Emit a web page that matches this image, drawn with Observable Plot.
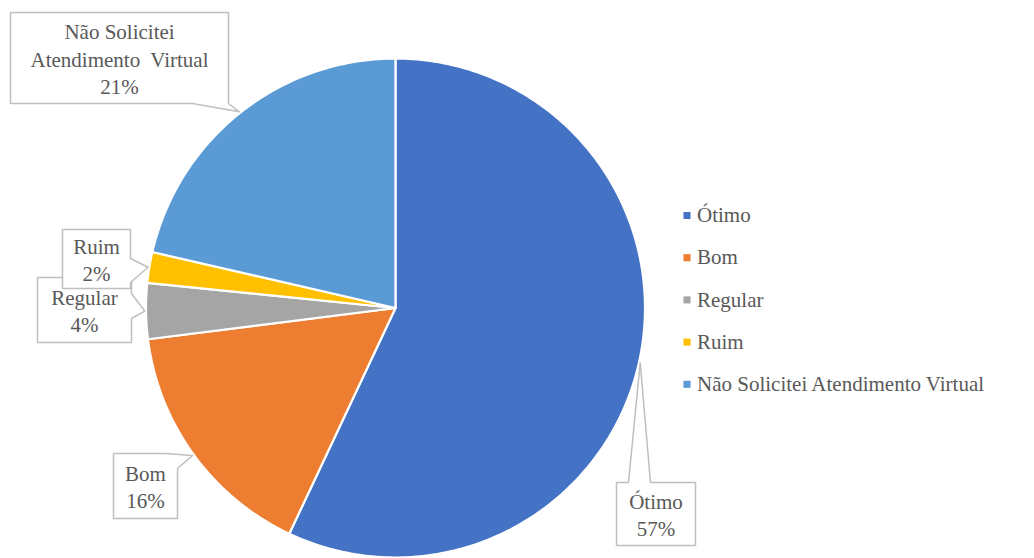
<!DOCTYPE html>
<html>
<head>
<meta charset="utf-8">
<script src="https://cdn.jsdelivr.net/npm/d3@7"></script>
<script src="https://cdn.jsdelivr.net/npm/@observablehq/plot@0.6"></script>
<style>
  html, body { margin: 0; padding: 0; background: #fff; }
  #chart svg { display: block; }
</style>
</head>
<body>
<div id="chart"></div>
<script>
// ---- data ----
const categories = ["Ótimo", "Bom", "Regular", "Ruim", "Não Solicitei Atendimento Virtual"];
const values = [57, 16, 3.6, 2, 21.4];
const percentLabels = ["57%", "16%", "4%", "2%", "21%"];
const labelNames = ["Ótimo", "Bom", "Regular", "Ruim", "Não Solicitei\nAtendimento  Virtual"];
const colors = ["#4472c4", "#ed7d31", "#a5a5a5", "#ffc000", "#5b9bd5"];

// ---- layout (pixels) ----
const W = 1034, H = 558;
const cx = 395, cy = 307.5, R = 249.5;
const callouts = [
  {box: [616, 482, 695, 545], edge: "top", base: [628, 650]},
  {box: [113, 453, 177, 518], edge: "corner-tr", base: [165, 468]},
  {box: [37, 277, 131, 342], edge: "right", base: [293, 318]},
  {box: [62, 229, 130, 288], edge: "right", base: [258, 282]},
  {box: [10, 12, 228, 103], edge: "bottom", base: [192, 228]}
];
const drawOrder = [0, 1, 2, 3, 4];
const legendX = 686.5, legendY0 = 215, legendStep = 42.2;

// ---- geometry from data ----
const pie = d3.pie().sort(null).value(d => d)(values);
const pt = (a, r = R) => [cx + r * Math.sin(a), cy - r * Math.cos(a)];

const slicePts = [];
pie.forEach((p, i) => {
  const n = Math.max(4, Math.ceil((p.endAngle - p.startAngle) / (Math.PI * 2) * 360));
  slicePts.push({cat: categories[i], x: cx, y: cy});
  for (let k = 0; k <= n; k++) {
    const a = p.startAngle + (p.endAngle - p.startAngle) * k / n;
    const [x, y] = pt(a);
    slicePts.push({cat: categories[i], x, y});
  }
});

const calloutPts = [];
const labelTexts = [];
drawOrder.forEach(i => {
  const c = callouts[i];
  const p = pie[i];
  const mid = (p.startAngle + p.endAngle) / 2;
  const tip = pt(mid, R * 1.005);
  const [x0, y0, x1, y1] = c.box;
  let poly;
  if (c.edge === "top") {
    poly = [[x0, y0], [c.base[0], y0], tip, [c.base[1], y0], [x1, y0], [x1, y1], [x0, y1]];
  } else if (c.edge === "bottom") {
    poly = [[x0, y0], [x1, y0], [x1, y1], [c.base[1], y1], tip, [c.base[0], y1], [x0, y1]];
  } else if (c.edge === "right") {
    poly = [[x0, y0], [x1, y0], [x1, c.base[0]], tip, [x1, c.base[1]], [x1, y1], [x0, y1]];
  } else {
    poly = [[x0, y0], [c.base[0], y0], tip, [x1, c.base[1]], [x1, y1], [x0, y1]];
  }
  poly.forEach(([x, y]) => calloutPts.push({id: i, x, y}));
  labelTexts.push({id: i, x: (x0 + x1) / 2, y: (y0 + y1) / 2,
    text: labelNames[i] + "\n" + percentLabels[i]});
});

const legendData = categories.map((c, i) => ({cat: c, x: legendX, y: legendY0 + i * legendStep}));

const font = "Liberation Serif";

const chart = Plot.plot({
  width: W, height: H,
  margin: 0,
  x: {domain: [0, W], range: [0, W], axis: null},
  y: {domain: [0, H], range: [0, H], axis: null},
  color: {domain: categories, range: colors},
  marks: [
    Plot.line(slicePts, {x: "x", y: "y", z: "cat", fill: "cat", stroke: "#fff",
      strokeWidth: 2.2, strokeLinejoin: "round", curve: "linear-closed"}),
    ...drawOrder.map(i => [
      Plot.line(calloutPts.filter(d => d.id === i), {x: "x", y: "y", fill: "#fff",
        stroke: "#bfbfbf", strokeWidth: 1.5, curve: "linear-closed"}),
      Plot.text(labelTexts.filter(d => d.id === i), {x: "x", y: "y", text: "text",
        fill: "#595959", fontSize: 21, lineHeight: 1.3, fontFamily: font,
        lineAnchor: "middle", textAnchor: "middle"})
    ]).flat(),
    Plot.dot(legendData, {x: "x", y: "y", fill: "cat", symbol: "square", r: 4}),
    Plot.text(legendData, {x: "x", y: "y", text: "cat", dx: 10, textAnchor: "start",
      fill: "#595959", fontSize: 21, fontFamily: font, lineAnchor: "middle"})
  ]
});
document.getElementById("chart").appendChild(chart);
</script>
</body>
</html>
